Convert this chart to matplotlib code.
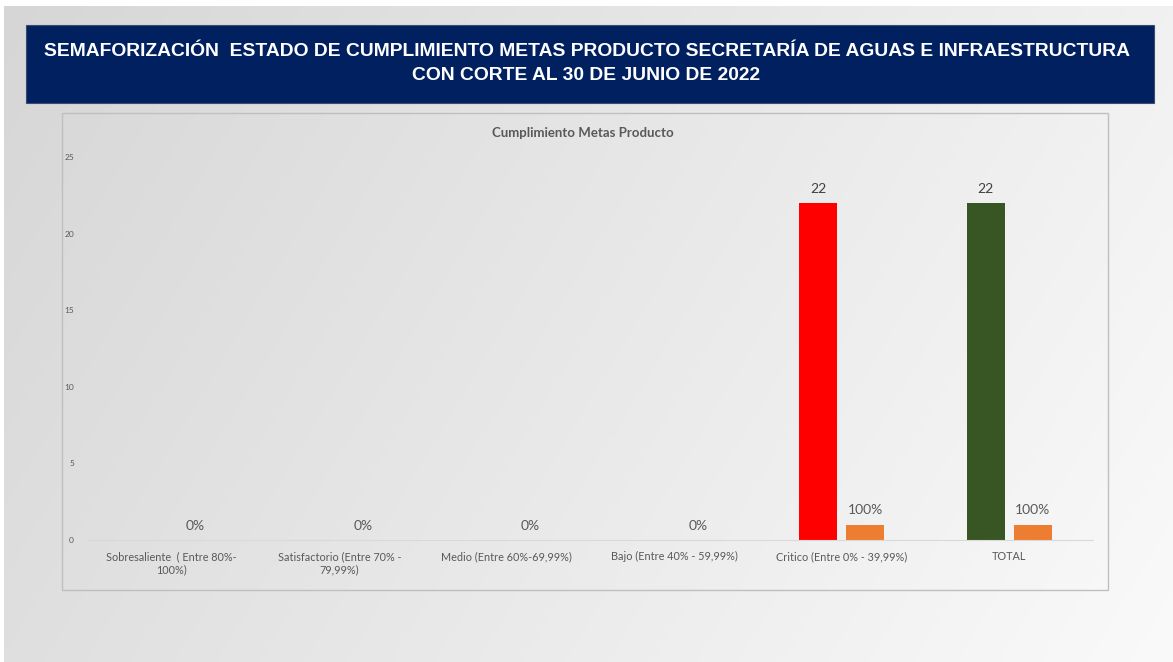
import numpy as np
import matplotlib
matplotlib.use("Agg")
import matplotlib.pyplot as plt
from matplotlib.patches import Rectangle

# data
categories = ["Sobresaliente  ( Entre 80%-\n100%)", "Satisfactorio (Entre 70% -\n79,99%)",
              "Medio (Entre 60%-69,99%)", "Bajo (Entre 40% - 59,99%)",
              "Critico (Entre 0% - 39,99%)", "TOTAL"]
counts = [0, 0, 0, 0, 22, 22]
shares = [0, 0, 0, 0, 1, 1]          # 100% drawn as 1 on the count axis
share_labels = ["0%", "0%", "0%", "0%", "100%", "100%"]
count_colors = ["#FF0000", "#FF0000", "#FF0000", "#FF0000", "#FF0000", "#375623"]
yticks = [0, 5, 10, 15, 20, 25]

W, H = 1173, 662
fig = plt.figure(figsize=(W / 100, H / 100), dpi=100)
fig.patch.set_facecolor("white")

# slide background gradient
bg = fig.add_axes([4 / W, 0, 1 - 4 / W, 1 - 6 / H])
xx, yy = np.meshgrid(np.linspace(0, 1, 300), np.linspace(0, 1, 200))
g = 0.84 + 0.14 * (0.75 * xx + 0.25 * (1 - yy))
bg.imshow(np.dstack([g, g, g]), aspect="auto", origin="lower", extent=[0, 1, 0, 1])
bg.set_axis_off()

# title banner
fig.patches.append(Rectangle((26 / W, 1 - 103 / H), (1154 - 26) / W, 78 / H,
                             transform=fig.transFigure, facecolor="#002060",
                             edgecolor="#3a4a70", lw=0.8, zorder=1))
fig.text(0.5, 1 - 52 / H, "SEMAFORIZACIÓN  ESTADO DE CUMPLIMIENTO METAS PRODUCTO SECRETARÍA DE AGUAS E INFRAESTRUCTURA",
         ha="center", va="center", color="white", fontsize=13.9, fontweight="bold",
         family="Liberation Sans", zorder=2)
fig.text(0.5, 1 - 75 / H, "CON CORTE AL 30 DE JUNIO DE 2022",
         ha="center", va="center", color="white", fontsize=13.9, fontweight="bold",
         family="Liberation Sans", zorder=2)

# chart frame
fig.patches.append(Rectangle((62 / W, 1 - 590 / H), (1108 - 62) / W, (590 - 113) / H,
                             transform=fig.transFigure, facecolor="none",
                             edgecolor="#bfbfbf", lw=1.0, zorder=1))
fig.text(583 / W, 1 - 133 / H, "Cumplimiento Metas Producto", ha="center", va="center",
         color="#595959", fontsize=9.5, fontweight="bold", family="Lato")

ax = fig.add_axes([88 / W, 1 - 540 / H, (1093 - 88) / W, (540 - 157) / H])
ax.set_facecolor("none")
x = np.arange(len(categories))
off, bw = 0.14, 0.225
ax.bar(x - off, counts, bw, color=count_colors)
ax.bar(x + off, shares, bw, color="#ED7D31")

for xi, v in zip(x, counts):
    if v:
        ax.text(xi - off, v + 0.55, str(v), ha="center", va="bottom", fontsize=10,
                color="#404040", family="Lato")
for xi, v, lab in zip(x, shares, share_labels):
    ax.text(xi + off, v + 0.55, lab, ha="center", va="bottom",
            fontsize=10, color="#595959", family="Lato")

ax.set_xlim(-0.5, len(categories) - 0.5)
ax.set_ylim(0, 25)
ax.set_yticks(yticks)
ax.set_yticklabels([str(t) for t in yticks], fontsize=6, color="#595959", family="Lato")
ax.set_xticks(x)
ax.set_xticklabels(categories, fontsize=7.8, color="#595959", family="Lato")
ax.tick_params(axis="both", length=0)
ax.tick_params(axis="y", pad=10)
ax.tick_params(axis="x", pad=8)
for s in ["top", "right", "left"]:
    ax.spines[s].set_visible(False)
ax.spines["bottom"].set_color("#d9d9d9")

fig.savefig("out.png", dpi=100)
